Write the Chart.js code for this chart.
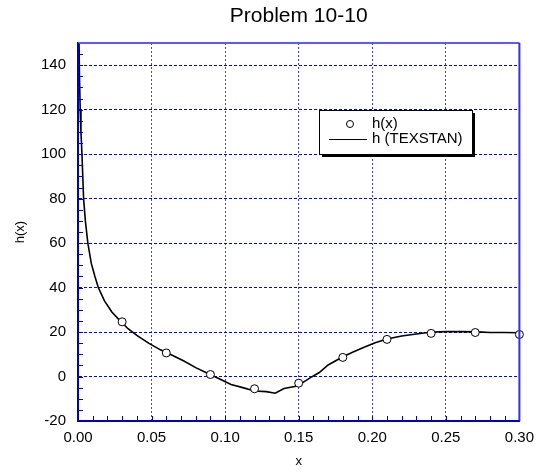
<!DOCTYPE html>
<html>
<head>
<meta charset="utf-8">
<script src="https://cdn.jsdelivr.net/npm/chart.js@4/dist/chart.umd.min.js"></script>
<style>
  html, body { margin: 0; padding: 0; background: #fff; }
  #wrap { width: 542px; height: 472px; }
</style>
</head>
<body>
<div id="wrap"><canvas id="canvas1"></canvas></div>
<script>
// measured points h(x)
const pointX = [0.03, 0.06, 0.09, 0.12, 0.15, 0.18, 0.21, 0.24, 0.27, 0.30];
const pointH = [24.6, 10.6, 0.9, -5.5, -3.0, 8.6, 16.7, 19.4, 19.8, 18.9];

// TEXSTAN curve
const lineX = [0.0005, 0.001, 0.0015, 0.002, 0.0027, 0.0038, 0.005, 0.0067, 0.009, 0.0115,
  0.0138, 0.018, 0.023, 0.028, 0.034, 0.04, 0.048, 0.056, 0.064, 0.072,
  0.08, 0.088, 0.096, 0.104, 0.112, 0.12, 0.128, 0.134, 0.14, 0.149,
  0.158, 0.164, 0.17, 0.18, 0.187, 0.194, 0.202, 0.21, 0.22, 0.2275,
  0.235, 0.242, 0.25, 0.26, 0.272, 0.28, 0.29, 0.30];
const lineH = [160, 135, 120, 110, 100, 80, 70, 60, 51, 45,
  40, 34, 29, 25.5, 21.5, 18.5, 15, 12, 9.6, 7,
  4, 1.5, -1, -3.6, -5, -6.5, -6.8, -7.5, -5.4, -4.3,
  -0.5, 1.8, 5.2, 8.9, 11, 13.1, 15.2, 16.9, 18.2, 18.9,
  19.6, 20.0, 20.2, 20.2, 20.1, 19.8, 19.8, 19.7];

const xTicks = [0, 0.05, 0.10, 0.15, 0.20, 0.25, 0.30];
const yTicks = [-20, 0, 20, 40, 60, 80, 100, 120, 140];

const chartTitle = "Problem 10-10";
const seriesNames = ["h(x)", "h (TEXSTAN)"];

const FONT = '"Liberation Sans", Arial, sans-serif';
Chart.defaults.font.family = FONT;
Chart.defaults.color = "#000";

const frame = {
  id: "frame",
  afterDatasetsDraw(chart) {
    const ctx = chart.ctx;
    const a = chart.chartArea;
    const xs = chart.scales.x, ys = chart.scales.y;
    ctx.save();
    // inward minor ticks
    ctx.strokeStyle = "#0000c0";
    ctx.lineWidth = 1;
    ctx.beginPath();
    for (let i = 0; i <= 30; i++) {
      const px = Math.round(xs.getPixelForValue(i / 100)) + 0.5;
      ctx.moveTo(px, a.bottom);
      ctx.lineTo(px, a.bottom - 5);
    }
    for (let v = -20; v <= 150; v += 5) {
      const py = Math.round(ys.getPixelForValue(v)) + 0.5;
      ctx.moveTo(a.left, py);
      ctx.lineTo(a.left + 5, py);
    }
    ctx.stroke();
    // frame
    ctx.lineWidth = 2;
    ctx.strokeStyle = "#5a5aff";
    ctx.beginPath();
    ctx.moveTo(a.left, a.top);
    ctx.lineTo(a.right, a.top);
    ctx.stroke();
    ctx.strokeStyle = "#3030f0";
    ctx.beginPath();
    ctx.moveTo(a.right, a.top);
    ctx.lineTo(a.right, a.bottom);
    ctx.stroke();
    ctx.strokeStyle = "#0000c0";
    ctx.beginPath();
    ctx.moveTo(a.left, a.top);
    ctx.lineTo(a.left, a.bottom);
    ctx.lineTo(a.right, a.bottom);
    ctx.stroke();
    ctx.restore();
  },
  afterDraw(chart) {
    const ctx = chart.ctx;
    const a = chart.chartArea;
    ctx.save();
    // title centred over plot area
    ctx.fillStyle = "#000";
    ctx.font = "21px " + FONT;
    ctx.textAlign = "center";
    ctx.textBaseline = "middle";
    ctx.fillText(chartTitle, (a.left + a.right) / 2, 16);

    // legend box
    const bx = a.left + 241, by = a.top + 67, bw = 153, bh = 44;
    ctx.fillStyle = "#000";
    ctx.fillRect(bx + 3, by + 3, bw, bh);
    ctx.fillStyle = "#fff";
    ctx.fillRect(bx, by, bw, bh);
    ctx.strokeStyle = "#000";
    ctx.lineWidth = 1;
    ctx.strokeRect(bx + 0.5, by + 0.5, bw, bh);
    ctx.beginPath();
    ctx.arc(bx + 31, by + 14, 3.5, 0, Math.PI * 2);
    ctx.fillStyle = "#fff";
    ctx.fill();
    ctx.stroke();
    ctx.beginPath();
    ctx.moveTo(bx + 10, by + 29.5);
    ctx.lineTo(bx + 48, by + 29.5);
    ctx.stroke();
    ctx.fillStyle = "#000";
    ctx.font = "15px " + FONT;
    ctx.textAlign = "left";
    ctx.fillText(seriesNames[0], bx + 53, by + 14);
    ctx.fillText(seriesNames[1], bx + 53, by + 29);
    ctx.restore();
  }
};

const ctx = document.getElementById("canvas1").getContext("2d");
const chart = new Chart(ctx, {
  type: "scatter",
  data: {
    datasets: [
      {
        label: seriesNames[0],
        data: pointX.map((x, i) => ({ x: x, y: pointH[i] })),
        pointRadius: 4,
        pointBorderWidth: 1,
        pointBorderColor: "#000",
        pointBackgroundColor: "#fff",
        showLine: false,
        clip: false
      },
      {
        label: seriesNames[1],
        data: lineX.map((x, i) => ({ x: x, y: lineH[i] })),
        showLine: true,
        borderColor: "#000",
        borderWidth: 1.6,
        pointRadius: 0,
        tension: 0
      }
    ]
  },
  options: {
    responsive: true,
    maintainAspectRatio: false,
    animation: false,
    layout: { padding: { left: 0, right: 17, top: 43, bottom: 0 } },
    plugins: {
      legend: { display: false },
      tooltip: { enabled: false },
      title: { display: false }
    },
    scales: {
      x: {
        type: "linear",
        min: 0,
        max: 0.3,
        afterFit: s => { s.height = 51; },
        afterBuildTicks: s => { s.ticks = xTicks.map(v => ({ value: v })); },
        ticks: {
          font: { size: 15 },
          padding: 8,
          callback: v => v.toFixed(2)
        },
        grid: { color: "#3c3cff", lineWidth: 1, drawTicks: false },
        border: { color: "#0000c0", width: 2, dash: [2, 2] },
        title: { display: true, text: "x", font: { size: 13 }, padding: { top: 0, bottom: 3 } }
      },
      y: {
        type: "linear",
        min: -20,
        max: 150,
        afterFit: s => { s.width = 78; },
        afterBuildTicks: s => { s.ticks = yTicks.map(v => ({ value: v })); },
        ticks: { font: { size: 15 }, padding: 12 },
        grid: { color: "#0000ff", lineWidth: 1, drawTicks: false },
        border: { color: "#0000c0", width: 2, dash: [3, 2] },
        title: { display: true, text: "h(x)", font: { size: 13 }, padding: { top: 13, bottom: 0 } }
      }
    }
  },
  plugins: [frame]
});
</script>
</body>
</html>
